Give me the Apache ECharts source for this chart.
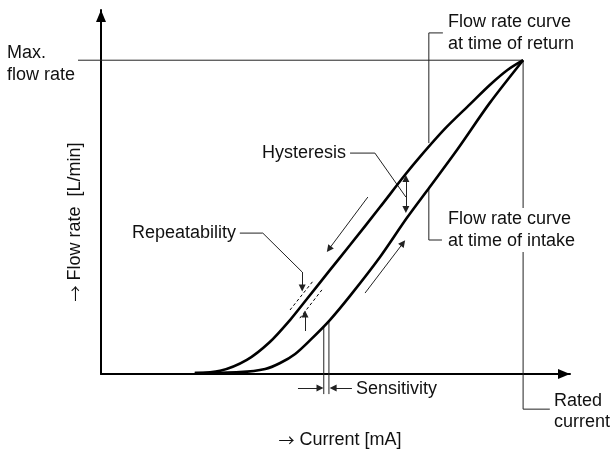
<!DOCTYPE html>
<html>
<head>
<meta charset="utf-8">
<script src="https://cdn.jsdelivr.net/npm/echarts@6/dist/echarts.min.js"></script>
<style>
  html, body { margin: 0; padding: 0; background: #fff; }
  #chart { width: 614px; height: 452px; }
</style>
</head>
<body>
<div id="chart"></div>
<script>
// Proportional valve characteristic: flow rate vs. drive current.
// Current axis runs 0..100 (rated current at 90), flow axis 0..116 (max flow = 100).
const RATED_CURRENT = 90;
const MAX_FLOW = 100;

// Rising current (intake) branch
const intakeCurve = [
  [20.0, 0.3], [29.6, 0.6], [35.0, 1.6], [38.2, 3.5], [41.4, 6.4], [44.6, 10.8],
  [48.8, 17.2], [53.1, 24.9], [59.5, 37.3], [65.2, 49.7], [70.1, 59.6],
  [75.9, 71.4], [82.9, 86.4], [90.0, 100]
];

// Falling current (return) branch
const returnCurve = [
  [20.0, 0.3], [25.4, 1.0], [31.1, 4.5], [36.0, 10.2], [40.3, 17.2], [43.9, 23.9],
  [48.8, 33.1], [53.1, 41.1], [59.5, 53.2], [64.8, 63.4], [68.0, 69.2],
  [73.3, 78.1], [78.7, 86.0], [82.9, 92.1], [86.6, 96.8], [90.0, 100]
];

const FONT_FAMILY = '"Liberation Sans", Arial, Helvetica, sans-serif';
const FONT = '18px ' + FONT_FAMILY;
const INK = '#111';
const THIN_COLOR = '#222';

const chart = echarts.init(document.getElementById('chart'), null, { renderer: 'canvas' });

// Leader and bracket polylines (axis units)
const leaderLines = [
  { coords: [[-4.9, MAX_FLOW], [RATED_CURRENT, MAX_FLOW]] },
  { coords: [[RATED_CURRENT, MAX_FLOW], [RATED_CURRENT, -11.2], [95.7, -11.2]] },
  { coords: [[69.9, 73.6], [69.9, 108.7], [72.9, 108.7]] },
  { coords: [[69.9, 59.3], [69.9, 42.7], [72.7, 42.7]] },
  { coords: [[53.1, 70.4], [58.4, 70.4], [65.0, 56.4]] },
  { coords: [[29.6, 44.9], [34.5, 44.9], [42.9, 32.5]] },
  { coords: [[47.5, 15.2], [47.5, -6.4]] },
  { coords: [[48.6, 16.9], [48.6, -6.4]] },
  { coords: [[40.3, 20.4], [45.2, 29.6]], lineStyle: { type: [3, 2.5], color: '#000' } },
  { coords: [[42.4, 17.8], [47.1, 26.8]], lineStyle: { type: [3, 2.5], color: '#000' } }
];

// Arrowed segments (axis units)
const arrowLines = [
  { coords: [[65.0, 62.3], [65.0, 52.4]], symbol: ['triangle', 'triangle'] },
  { coords: [[56.9, 56.4], [48.6, 39.8]] },
  { coords: [[56.3, 25.8], [64.4, 41.7]] },
  { coords: [[42.9, 32.5], [42.9, 27.4]] },
  { coords: [[43.5, 13.7], [43.5, 19.1]] },
  { coords: [[42.0, -4.5], [46.7, -4.5]] },
  { coords: [[53.5, -4.5], [49.5, -4.5]] }
];

function text(x, y, str, extra) {
  return {
    type: 'text',
    x: x,
    y: y,
    z: 100,
    style: Object.assign({
      text: str,
      font: FONT,
      fill: INK,
      verticalAlign: 'middle',
      lineHeight: 22
    }, extra || {})
  };
}

const arrowRich = {
  ar: { fontFamily: '"Noto Sans CJK JP", "DejaVu Sans", sans-serif', fontSize: 16, fill: INK },
  t: { fontFamily: FONT_FAMILY, fontSize: 18, fill: INK }
};

const option = {
  animation: false,
  backgroundColor: '#fff',
  grid: { left: 101, right: 44, top: 10, bottom: 78 },
  xAxis: {
    type: 'value', min: 0, max: 100,
    axisLine: {
      show: true,
      lineStyle: { color: '#000', width: 2 },
      symbol: ['none', 'triangle'],
      symbolSize: [10, 12],
      symbolOffset: [0, -6]
    },
    axisTick: { show: false }, axisLabel: { show: false }, splitLine: { show: false }
  },
  yAxis: {
    type: 'value', min: 0, max: 116,
    axisLine: {
      show: true,
      lineStyle: { color: '#000', width: 2 },
      symbol: ['none', 'triangle'],
      symbolSize: [10, 12],
      symbolOffset: [0, -6]
    },
    axisTick: { show: false }, axisLabel: { show: false }, splitLine: { show: false }
  },
  series: [
    {
      name: 'Flow rate curve at time of intake',
      type: 'line',
      data: intakeCurve,
      smooth: 0.3,
      showSymbol: false,
      clip: false,
      lineStyle: { color: '#000', width: 2.6 },
      z: 5
    },
    {
      name: 'Flow rate curve at time of return',
      type: 'line',
      data: returnCurve,
      smooth: 0.3,
      showSymbol: false,
      clip: false,
      lineStyle: { color: '#000', width: 2.6 },
      z: 5
    },
    {
      name: 'leaders',
      type: 'lines',
      coordinateSystem: 'cartesian2d',
      polyline: true,
      clip: false,
      silent: true,
      lineStyle: { color: THIN_COLOR, width: 1, opacity: 1 },
      data: leaderLines,
      z: 3
    },
    {
      name: 'arrows',
      type: 'lines',
      coordinateSystem: 'cartesian2d',
      polyline: false,
      clip: false,
      silent: true,
      symbol: ['none', 'triangle'],
      symbolSize: 7,
      lineStyle: { color: THIN_COLOR, width: 1, opacity: 1, curveness: 0 },
      data: arrowLines,
      z: 3
    }
  ],
  graphic: [
    text(7, 53, 'Max.'),
    text(7, 75, 'flow rate'),
    text(448, 22, 'Flow rate curve'),
    text(448, 44, 'at time of return'),
    text(262, 153, 'Hysteresis'),
    text(446, 230, 'Flow rate curve\nat time of intake', { backgroundColor: '#fff', padding: [0, 2, 0, 2] }),
    text(132, 233, 'Repeatability'),
    text(356, 389, 'Sensitivity'),
    text(554, 401, 'Rated'),
    text(554, 422, 'current'),
    text(340, 440, '{ar|\u2192} {t|Current [mA]}', { align: 'center', rich: arrowRich }),
    Object.assign(
      text(75, 222, '{ar|\u2192} {t|Flow rate  [L/min]}', { align: 'center', rich: arrowRich }),
      { rotation: Math.PI / 2 }
    )
  ]
};

chart.setOption(option);
</script>
</body>
</html>
